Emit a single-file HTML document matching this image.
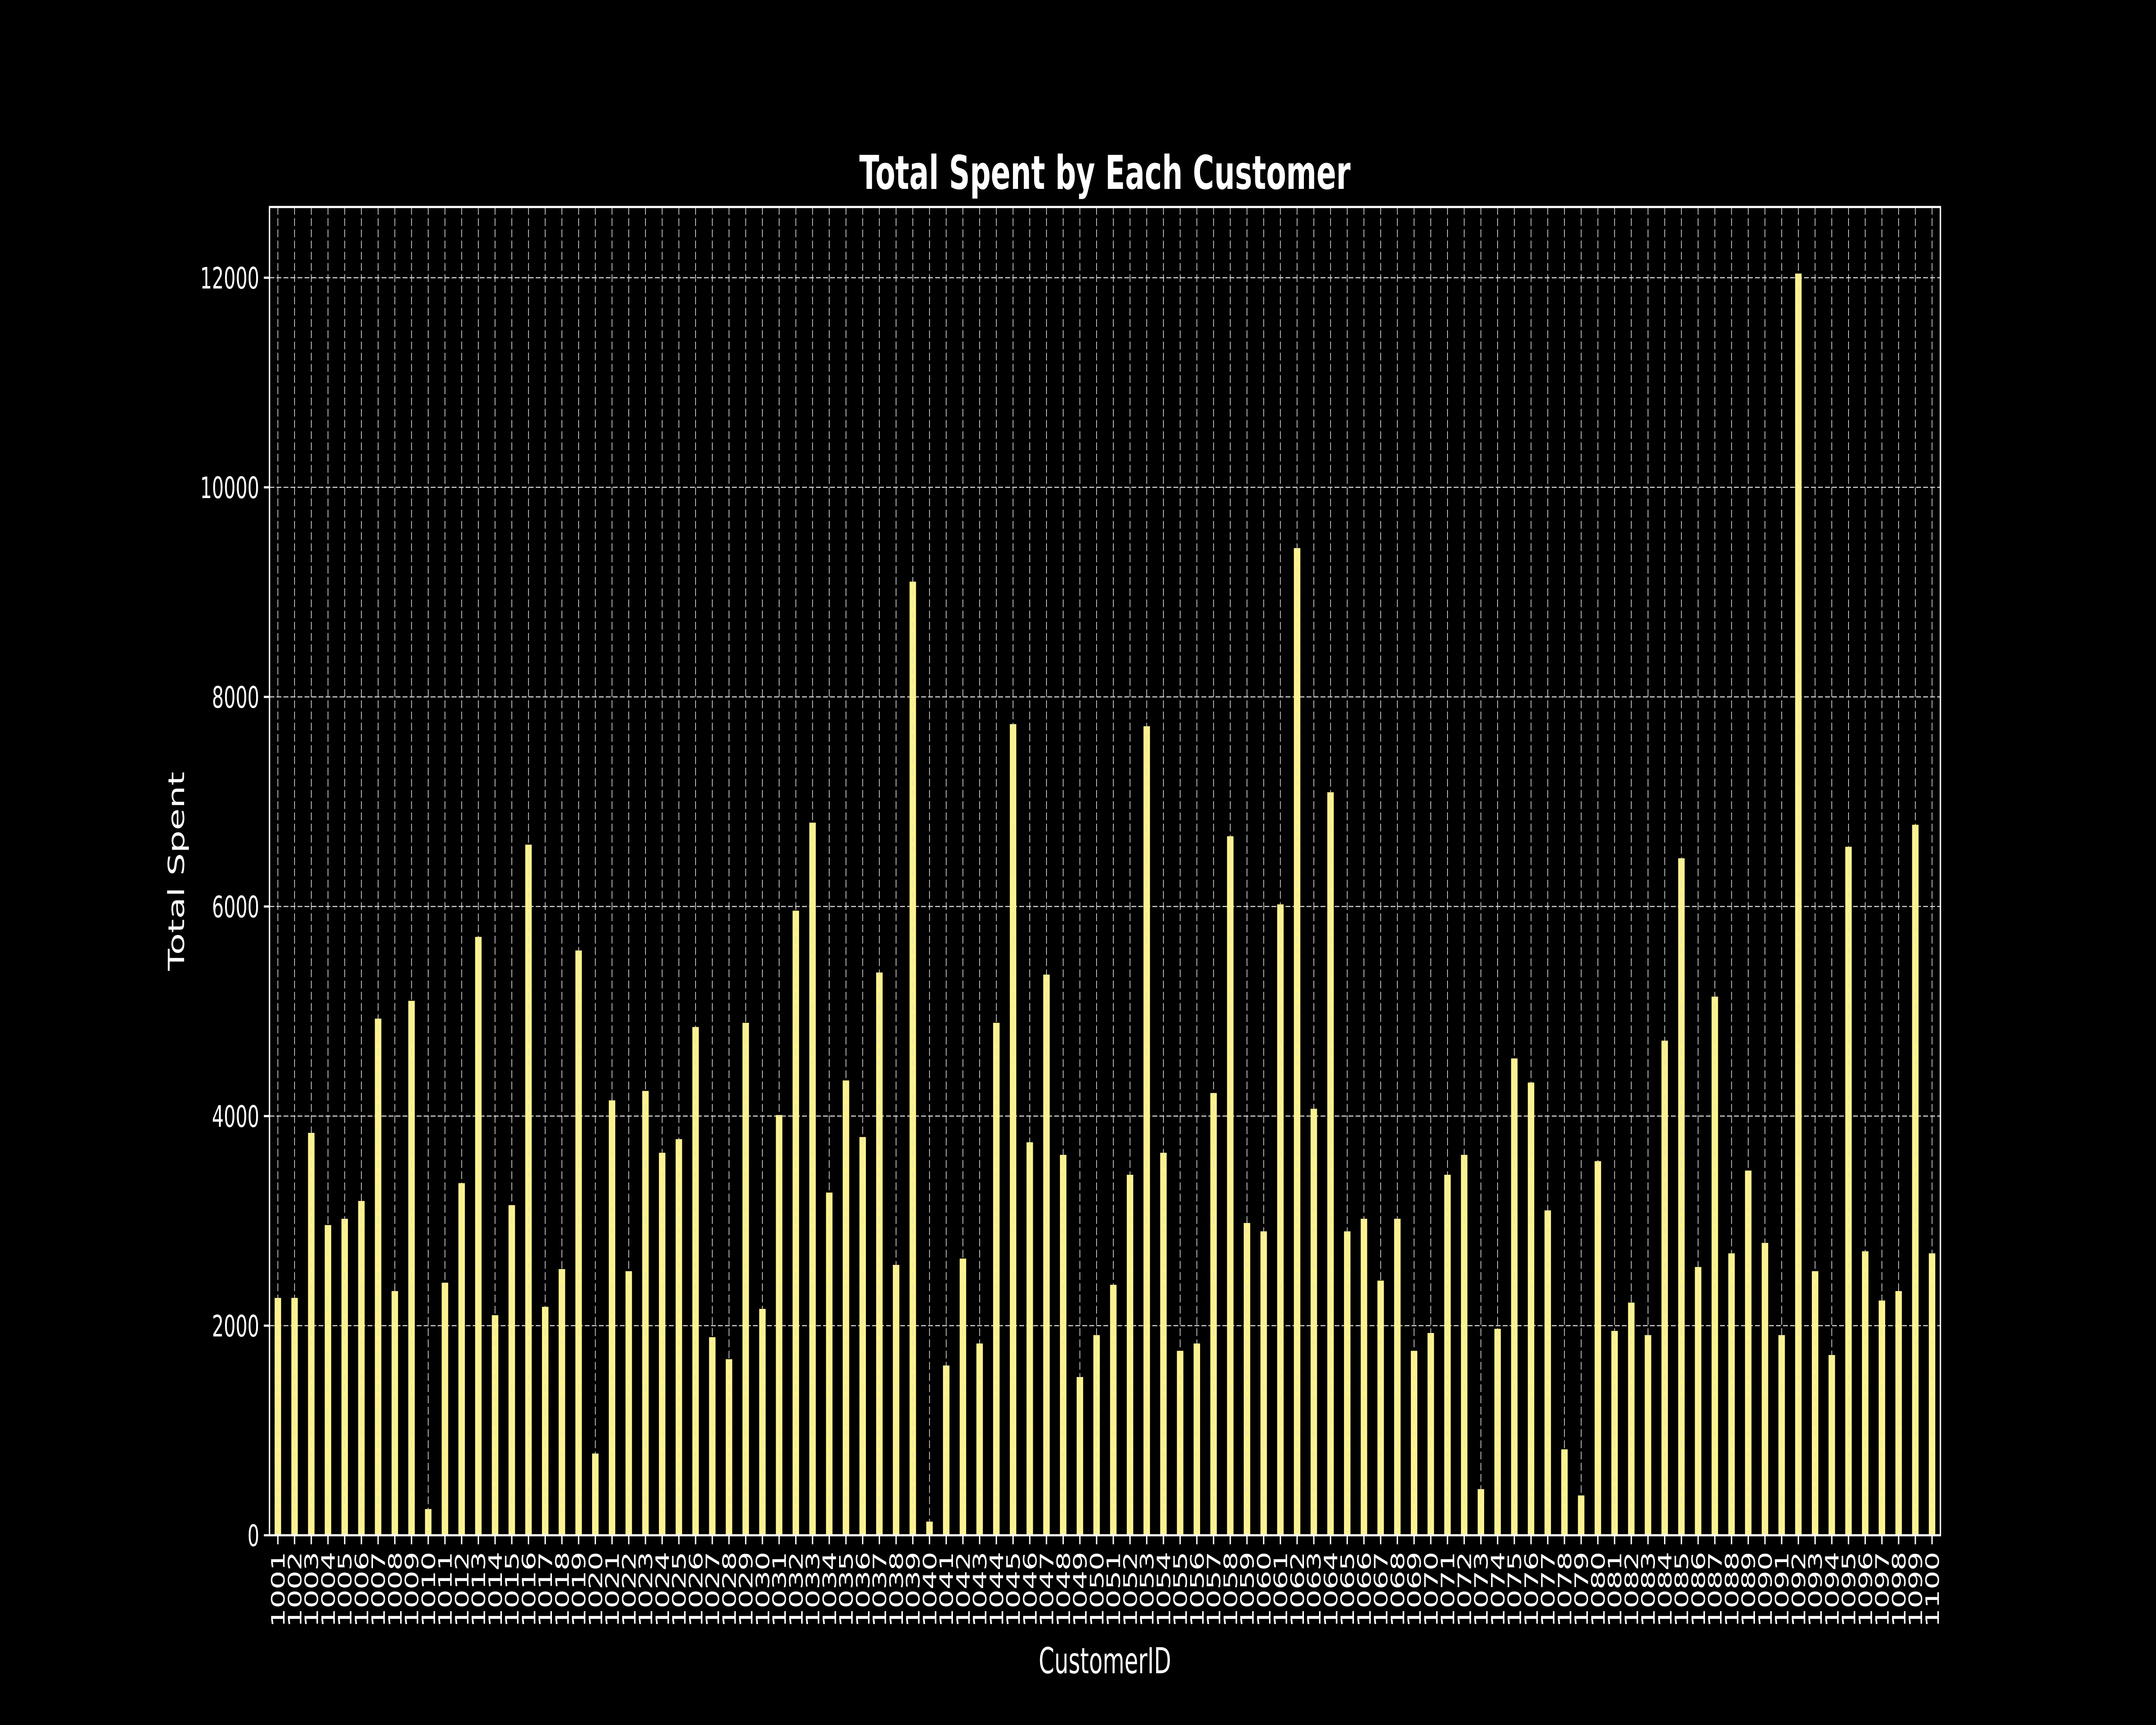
<!DOCTYPE html>
<html><head><meta charset="utf-8"><style>
html,body{margin:0;padding:0;background:#000;width:100vw;height:100vh;overflow:hidden;}
svg{display:block;width:100vw;height:100vh;font-family:"DejaVu Sans","Liberation Sans",sans-serif;}
</style></head><body>
<svg id="chart" viewBox="0 0 8000 4000" preserveAspectRatio="none" xmlns="http://www.w3.org/2000/svg">
<rect x="0" y="0" width="8000" height="4000" fill="#000"/>
<g id="grid"></g>
<g id="bars"></g>
<g id="gridTop"></g>
<g id="axes"></g>
<text x="4100" y="438" text-anchor="middle" font-size="108" font-weight="bold" fill="#fff">Total Spent by Each Customer</text>
<text x="4100" y="3880" text-anchor="middle" font-size="83" fill="#fff">CustomerID</text>
<text transform="translate(683,2020) rotate(-90)" text-anchor="middle" font-size="83" fill="#fff">Total Spent</text>
</svg>
<script>
const categories = [];
for (let c = 1001; c <= 1100; c++) categories.push(String(c));
const totals = [2265,2265,3840,2960,3020,3190,4930,2330,5100,250,
2410,3360,5710,2100,3150,6590,2180,2540,5580,780,
4150,2520,4240,3650,3780,4850,1890,1680,4890,2160,
4010,5960,6800,3270,4340,3800,5370,2580,9100,130,
1620,2640,1830,4890,7740,3750,5350,3630,1510,1910,
2390,3440,7720,3650,1760,1830,4220,6670,2980,2900,
6020,9420,4070,7090,2900,3020,2430,3020,1760,1930,
3440,3630,440,1970,4550,4320,3100,820,380,3570,
1950,2220,1910,4720,6460,2560,5140,2690,3480,2790,
1910,12040,2520,1720,6570,2710,2240,2330,6780,2690];
const yTicks = [0,2000,4000,6000,8000,10000,12000];
const yTickLabels = ["0","2000","4000","6000","8000","10000","12000"];

const NS = "http://www.w3.org/2000/svg";
const L = 1000, R = 7200, T = 480, B = 3560;
const yMax = 12000 * (B - T) / (B - 644);
function xPos(i){ return L + (i + 0.5) * (R - L) / categories.length; }
function yPos(v){ return B - v / yMax * (B - T); }
function mk(tag, attrs, parent){
  const e = document.createElementNS(NS, tag);
  for (const k in attrs) e.setAttribute(k, attrs[k]);
  parent.appendChild(e); return e;
}
const grid = document.getElementById('grid');
const gridTop = document.getElementById('gridTop');
const bars = document.getElementById('bars');
const axes = document.getElementById('axes');
const bw = 24;
const gstyle = {stroke:"#d8d8d8", "stroke-width":2.5, "stroke-dasharray":"18 8"};

categories.forEach((c, i) => {
  const x = xPos(i);
  for (const g of [grid, gridTop]) {
    const gl = mk('line', Object.assign({x1:x, x2:x, y1:T, y2:B}, gstyle), g);
    
    
    if (g === gridTop) gl.setAttribute('opacity', '0.55');
  }
  const y = yPos(totals[i]);
  const r = mk('rect', {x:x - bw/2, y:y, width:bw, height:B - y, fill:"#fff38f"}, bars);
  
  
  const tk = mk('line', {x1:x, x2:x, y1:B, y2:B + 21, stroke:"#fff", "stroke-width":5}, axes);
  
  
  const t = mk('text', {transform:`translate(${x + 25},${B + 38}) rotate(-90)`, "text-anchor":"end", "font-size":69, fill:"#fff"}, axes);
  t.textContent = c;
  
  
});
yTicks.forEach((v, i) => {
  const y = yPos(v);
  const gl = mk('line', Object.assign({x1:L, x2:R, y1:y, y2:y}, gstyle), grid);
  
  
  const tk = mk('line', {x1:L - 21, x2:L, y1:y, y2:y, stroke:"#fff", "stroke-width":5}, axes);
  
  
  const t = mk('text', {x:L - 38, y:y + 25, "text-anchor":"end", "font-size":69, fill:"#fff"}, axes);
  t.textContent = yTickLabels[i];
  
  
});
const frame = mk('rect', {x:L, y:T, width:R - L, height:B - T, fill:"none", stroke:"#fff", "stroke-width":5}, axes);


</script>
</body></html>
